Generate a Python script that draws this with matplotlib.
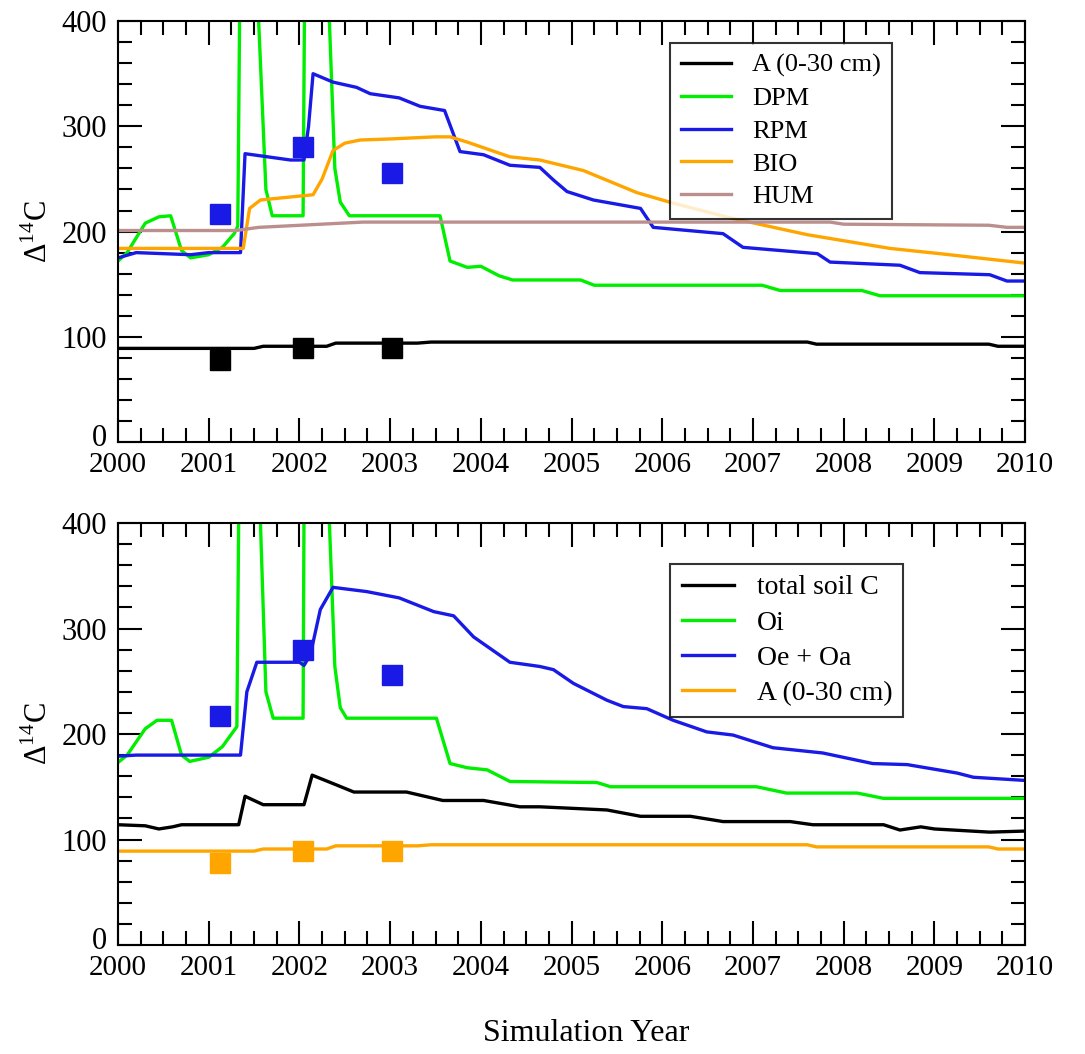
import numpy as np
import matplotlib.pyplot as plt
from matplotlib.transforms import ScaledTranslation

plt.rcParams['font.family'] = ['Liberation Serif', 'DejaVu Serif']
plt.rcParams['mathtext.fontset'] = 'custom'
plt.rcParams['mathtext.rm'] = 'Liberation Serif'

# ---- top panel: RothC pools ----
a_t = [2000.0, 2001.5, 2001.6, 2002.3, 2002.4, 2003.3, 2003.45, 2007.6, 2007.7, 2009.6, 2009.7, 2010.0]
a_v = [89, 89, 91, 91, 94, 94, 95, 95, 93, 93, 91, 91]

dpm_t = [2000.0, 2000.1, 2000.3, 2000.45, 2000.58, 2000.7, 2000.8, 2001.0, 2001.15, 2001.28, 2001.32,
         2001.36, 2001.5, 2001.55, 2001.63, 2001.7, 2002.04, 2002.07, 2002.27, 2002.33, 2002.39,
         2002.45, 2002.55, 2003.55, 2003.66, 2003.85, 2004.0, 2004.2, 2004.35, 2005.1, 2005.25,
         2007.1, 2007.3, 2008.2, 2008.4, 2010.0]
dpm_v = [172, 180, 208, 214, 215, 182, 175, 178, 185, 198, 205,
         600, 600, 400, 240, 215, 215, 600, 600, 400, 260,
         228, 215, 215, 172, 166, 167, 158, 154, 154, 149,
         149, 144, 144, 139, 139]

rpm_t = [2000.0, 2000.2, 2000.8, 2001.0, 2001.35, 2001.4, 2001.9, 2002.05, 2002.1, 2002.15,
         2002.37, 2002.63, 2002.78, 2003.1, 2003.33, 2003.6, 2003.77, 2004.03, 2004.32, 2004.65,
         2004.8, 2004.95, 2005.24, 2005.76, 2005.9, 2006.67, 2006.89, 2007.71, 2007.85, 2008.62,
         2008.84, 2009.61, 2009.8, 2010.0]
rpm_v = [175, 180, 178, 180, 180, 274, 268, 268, 300, 350,
         342, 337, 331, 327, 319, 315, 276, 273, 263, 261,
         249, 238, 230, 222, 204, 198, 185, 179, 171, 168,
         161, 159, 153, 153]

bio_t = [2000.0, 2001.38, 2001.45, 2001.57, 2002.15, 2002.25, 2002.37, 2002.5, 2002.67, 2003.0,
         2003.5, 2003.66, 2003.85, 2004.32, 2004.65, 2005.13, 2005.72, 2006.12, 2006.75, 2007.6,
         2008.51, 2009.06, 2010.0]
bio_v = [184, 184, 222, 230, 235, 250, 277, 284, 287, 288,
         290, 290, 285, 271, 268, 258, 237, 227, 213, 197,
         184, 179, 170]

hum_t = [2000.0, 2001.3, 2001.55, 2002.7, 2007.85, 2008.0, 2009.6, 2009.8, 2010.0]
hum_v = [201, 201, 204, 209, 209, 207, 206, 204, 204]

# ---- bottom panel: horizons ----
tot_t = [2000.0, 2000.3, 2000.45, 2000.6, 2000.7, 2001.33, 2001.4, 2001.6, 2002.05, 2002.14,
         2002.4, 2002.6, 2003.18, 2003.58, 2004.03, 2004.43, 2004.65, 2005.39, 2005.76, 2006.31,
         2006.67, 2007.41, 2007.66, 2008.44, 2008.62, 2008.85, 2009.0, 2009.61, 2010.0]
tot_v = [114, 113, 110, 112, 114, 114, 141, 133, 133, 161,
         152, 145, 145, 137, 137, 131, 131, 128, 122, 122,
         117, 117, 114, 114, 109, 112, 110, 107, 108]

oi_t = [2000.0, 2000.1, 2000.3, 2000.43, 2000.59, 2000.7, 2000.79, 2001.0, 2001.15, 2001.31,
        2001.35, 2001.52, 2001.57, 2001.63, 2001.71, 2002.04, 2002.06, 2002.28, 2002.33, 2002.39,
        2002.45, 2002.52, 2003.51, 2003.66, 2003.85, 2004.07, 2004.32, 2005.28, 2005.43, 2007.04,
        2007.37, 2008.15, 2008.44, 2010.0]
oi_v = [173, 180, 205, 213, 213, 180, 174, 178, 188, 207,
        600, 600, 400, 240, 215, 215, 600, 600, 400, 264,
        225, 215, 215, 172, 168, 166, 155, 154, 150, 150,
        144, 144, 139, 139]

oe_t = [2000.0, 2000.2, 2001.35, 2001.42, 2001.53, 2002.0, 2002.05, 2002.12, 2002.23, 2002.37,
        2002.74, 2003.1, 2003.48, 2003.7, 2003.92, 2004.32, 2004.65, 2004.8, 2005.02, 2005.39,
        2005.57, 2005.83, 2006.12, 2006.49, 2006.78, 2007.22, 2007.77, 2008.32, 2008.7, 2009.25,
        2009.43, 2010.0]
oe_v = [179, 180, 180, 240, 268, 268, 265, 275, 318, 339,
        335, 329, 316, 312, 292, 268, 264, 261, 248, 232,
        226, 224, 213, 202, 199, 187, 182, 172, 171, 163,
        159, 156]

# observations
obs_t = [2001.12, 2002.04, 2003.02]
obs_a = [78, 89, 89]
obs_oe = [217, 280, 256]

GREEN = '#00ee00'
BLUE = '#1a1ae6'
ORANGE = '#ffa500'
HUM = '#bc8f8f'

fig = plt.figure(figsize=(10.85, 10.54), dpi=100)
ax1 = fig.add_axes([0.1088, 0.5806, 0.836, 0.3994])
ax2 = fig.add_axes([0.1088, 0.1034, 0.836, 0.4004])

lw = 2.4
ms = 14

ax1.plot(a_t, a_v, color='black', lw=lw, label='A (0-30 cm)')
ax1.plot(dpm_t, dpm_v, color=GREEN, lw=lw, label='DPM')
ax1.plot(rpm_t, rpm_v, color=BLUE, lw=lw, label='RPM')
ax1.plot(bio_t, bio_v, color=ORANGE, lw=lw, label='BIO')
ax1.plot(hum_t, hum_v, color=HUM, lw=lw, label='HUM')
ax1.plot(obs_t, obs_a, 's', color='black', ms=ms, ls='none')
ax1.plot(obs_t, obs_oe, 's', color=BLUE, ms=ms, ls='none')

ax2.plot(tot_t, tot_v, color='black', lw=lw, label='total soil C')
ax2.plot(oi_t, oi_v, color=GREEN, lw=lw, label='Oi')
ax2.plot(oe_t, oe_v, color=BLUE, lw=lw, label='Oe + Oa')
ax2.plot(a_t, a_v, color=ORANGE, lw=lw, label='A (0-30 cm)')
ax2.plot(obs_t, obs_a, 's', color=ORANGE, ms=ms, ls='none')
ax2.plot(obs_t, obs_oe, 's', color=BLUE, ms=ms, ls='none')

for ax, top, lfs in ((ax1, 0.948, 19), (ax2, 0.903, 20)):
    ax.set_xlim(2000, 2010)
    ax.set_ylim(0, 400)
    ax.set_xticks(np.arange(2000, 2011, 1))
    ax.set_xticks(np.arange(2000, 2010.01, 0.25), minor=True)
    ax.set_yticks(np.arange(0, 401, 100))
    ax.set_yticks(np.arange(0, 401, 20), minor=True)
    ax.tick_params(which='both', direction='in', top=True, right=True, width=1.5)
    ax.tick_params(which='major', length=17)
    ax.tick_params(which='minor', length=10)
    ax.tick_params(axis='x', labelsize=21, pad=7)
    ax.tick_params(axis='y', labelsize=22, pad=8)
    for s in ax.spines.values():
        s.set_linewidth(1.5)
    ax.set_ylabel(r'$\Delta^{14}$C', fontsize=22, labelpad=5)
    leg = ax.legend(fontsize=lfs, frameon=True, fancybox=False, handlelength=1.9,
                    borderpad=0.4, labelspacing=0.35, handletextpad=0.8,
                    borderaxespad=0, loc='upper left', bbox_to_anchor=(0.609, top))
    leg.get_frame().set_edgecolor('black')
    leg.get_frame().set_linewidth(1.5)
    # nudge the "0" label up so it sits just above the year labels
    zero = ax.yaxis.get_major_ticks()[0].label1
    zero.set_transform(zero.get_transform() + ScaledTranslation(0, 5 / 72, fig.dpi_scale_trans))

fig.text(0.54, 0.012, 'Simulation Year', ha='center', fontsize=23)

plt.savefig('out.png', dpi=100)
